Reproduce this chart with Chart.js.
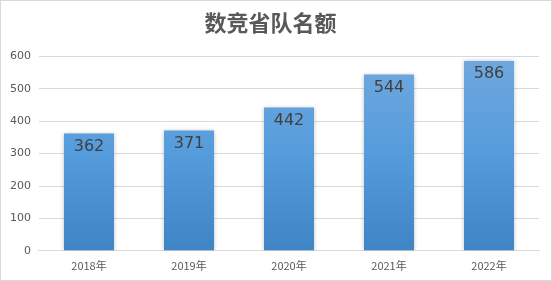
<html>
<head>
<meta charset="utf-8">
<style>
  body { margin: 0; padding: 0; background: #fff; }
  #wrap { position: relative; width: 550px; height: 279px; border: 1px solid #d9d9d9; }
</style>
</head>
<body>
<div id="wrap"><canvas id="myChart"></canvas></div>
<script src="https://cdn.jsdelivr.net/npm/chart.js@4/dist/chart.umd.min.js"></script>
<script>
const years = ["2018年", "2019年", "2020年", "2021年", "2022年"];
const counts = [362, 371, 442, 544, 586];
const yTicks = [0, 100, 200, 300, 400, 500, 600];

const barFill = ctx => {
  const area = ctx.chart.chartArea;
  if (!area) return "#5b9bd5";
  const g = ctx.chart.ctx.createLinearGradient(0, area.top, 0, area.bottom);
  g.addColorStop(0, "#70a8de");
  g.addColorStop(0.5, "#559cdc");
  g.addColorStop(1, "#3f84c5");
  return g;
};

// value labels just inside the top of each bar
const insideLabels = {
  id: "insideLabels",
  afterDatasetsDraw(chart) {
    const c = chart.ctx;
    const meta = chart.getDatasetMeta(0);
    c.save();
    c.font = "16px 'DejaVu Sans', sans-serif";
    c.fillStyle = "#404040";
    c.textAlign = "center";
    c.textBaseline = "top";
    meta.data.forEach((bar, i) => {
      c.fillText(String(counts[i]), bar.x, bar.y + 5);
    });
    c.restore();
  }
};

// soft shadow behind bars
const barShadow = {
  id: "barShadow",
  beforeDatasetsDraw(chart) {
    const c = chart.ctx;
    c.save();
    c.shadowColor = "rgba(0,0,0,0.25)";
    c.shadowBlur = 4;
  },
  afterDatasetsDraw(chart) {
    chart.ctx.restore();
  }
};

new Chart(document.getElementById("myChart"), {
  type: "bar",
  data: {
    labels: years,
    datasets: [{
      data: counts,
      backgroundColor: barFill,
      borderWidth: 0,
      categoryPercentage: 1,
      barPercentage: 0.5
    }]
  },
  plugins: [barShadow, insideLabels],
  options: {
    responsive: true,
    maintainAspectRatio: false,
    animation: false,
    layout: { padding: { left: 1, right: 12, top: 6, bottom: 8 } },
    plugins: {
      legend: { display: false },
      tooltip: { enabled: false },
      title: {
        display: true,
        text: "数竞省队名额",
        color: "#595959",
        font: { family: "'Noto Sans CJK SC'", size: 22, weight: "bold" },
        padding: { top: 2, bottom: 21 }
      }
    },
    scales: {
      x: {
        grid: { display: false },
        border: { color: "#d9d9d9" },
        ticks: { color: "#595959", font: { family: "'Noto Sans CJK SC'", size: 11 }, padding: 0 }
      },
      y: {
        min: 0,
        max: 600,
        afterBuildTicks: axis => { axis.ticks = yTicks.map(v => ({ value: v })); },
        grid: { color: "#d9d9d9", drawTicks: false },
        border: { display: false },
        ticks: { color: "#595959", font: { family: "'DejaVu Sans'", size: 11 }, padding: 8 }
      }
    }
  }
});
</script>
</body>
</html>
